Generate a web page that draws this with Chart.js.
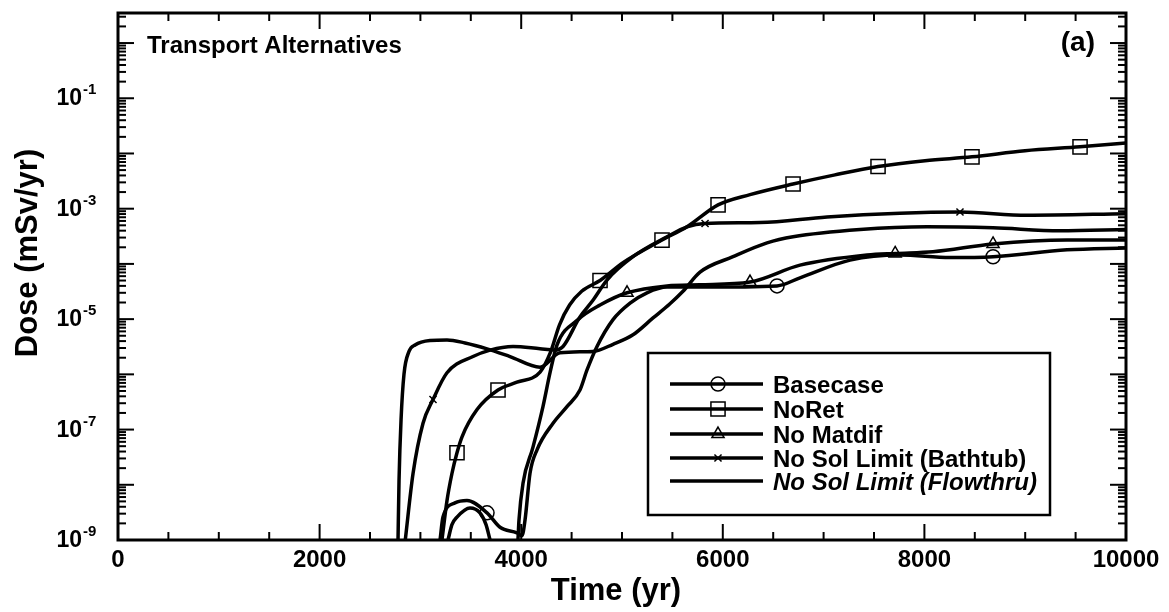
<!DOCTYPE html>
<html>
<head>
<meta charset="utf-8">
<script src="https://cdn.jsdelivr.net/npm/chart.js@4.4.0/dist/chart.umd.min.js"></script>
<style>
  html, body { margin: 0; padding: 0; background: #fff; }
  #wrap { width: 1169px; height: 612px; position: relative; }
</style>
</head>
<body>
<div id="wrap"><canvas id="myChart"></canvas></div>
<script>
const FONT = "'Liberation Sans', Arial, Helvetica, sans-serif";

const seriesNames = ['Basecase', 'NoRet', 'No Matdif', 'No Sol Limit (Bathtub)', 'No Sol Limit (Flowthru)'];

// Time (yr) / dose (mSv/yr)
const basecaseYears = [3195, 3224, 3343, 3462, 3661, 3790, 3958, 4008, 4038, 4087, 4157, 4316, 4454, 4583, 4653, 4752, 4911, 5080, 5248, 5447, 5774, 6538, 6766, 7262, 7758, 8254, 8681, 9415, 10000];
const basecaseDose  = [1e-9, 2.6e-9, 4.7e-9, 5.2e-9, 3.1e-9, 1.7e-9, 1.35e-9, 1.2e-9, 2.3e-9, 1.6e-8, 4.3e-8, 1.3e-7, 2.6e-7, 5.2e-7, 1.2e-6, 3.2e-6, 9.8e-6, 1.95e-5, 3.0e-5, 3.8e-5, 3.8e-5, 4.0e-5, 5.6e-5, 1.17e-4, 1.45e-4, 1.3e-4, 1.35e-4, 1.8e-4, 1.95e-4];
const basecaseMarks = [3661, 6538, 8681];

const noRetYears = [3214, 3264, 3313, 3363, 3413, 3562, 3770, 3958, 4187, 4290, 4380, 4480, 4600, 4782, 5010, 5397, 5645, 5953, 6270, 6697, 7113, 7540, 8006, 8472, 8998, 9544, 10000];
const noRetDose  = [1e-9, 5.2e-9, 1.6e-8, 3.8e-8, 7.4e-8, 2.3e-7, 5.2e-7, 7.2e-7, 1.1e-6, 2.5e-6, 7.9e-6, 1.8e-5, 3.2e-5, 5.0e-5, 1.05e-4, 2.7e-4, 4.7e-4, 1.17e-3, 1.8e-3, 2.8e-3, 4.1e-3, 5.8e-3, 7.4e-3, 8.7e-3, 1.12e-2, 1.32e-2, 1.55e-2];
const noRetMarks = [3363, 3770, 4782, 5397, 5953, 6697, 7540, 8472, 9544];

const noMatdifYears = [3274, 3313, 3363, 3492, 3591, 3651, 3691, 3800, 3968, 3978, 4018, 4117, 4216, 4286, 4355, 4564, 4782, 5050, 5447, 5774, 6270, 6766, 7431, 7710, 8085, 8681, 9415, 10000];
const noMatdifDose  = [1e-9, 1.9e-9, 2.6e-9, 3.8e-9, 3.1e-9, 1.9e-9, 1e-9, null, 1e-9, 2.3e-9, 1.07e-8, 4.8e-8, 2.6e-7, 1.07e-6, 3.4e-6, 9.8e-6, 1.8e-5, 3.0e-5, 4.0e-5, 4.2e-5, 4.7e-5, 9.5e-5, 1.45e-4, 1.55e-4, 1.66e-4, 2.3e-4, 2.7e-4, 2.7e-4];
const noMatdifMarks = [5050, 6270, 7710, 8681];

const bathtubYears = [2850, 2927, 3026, 3125, 3264, 3522, 3691, 3919, 4187, 4330, 4415, 4583, 4712, 4851, 5109, 5447, 5645, 5824, 6369, 7034, 7758, 8353, 9018, 10000];
const bathtubDose  = [1e-9, 1.6e-8, 1.3e-7, 3.5e-7, 1.07e-6, 2.1e-6, 2.75e-6, 3.2e-6, 2.9e-6, 2.75e-6, 3.2e-6, 1.1e-5, 2.2e-5, 5.1e-5, 1.35e-4, 3.1e-4, 4.7e-4, 5.4e-4, 5.6e-4, 7.1e-4, 8.3e-4, 8.7e-4, 7.6e-4, 8.1e-4];
const bathtubMarks = [3125, 5824, 8353];

const flowthruYears = [2778, 2788, 2808, 2837, 2887, 2947, 3095, 3264, 3443, 3661, 3889, 4187, 4385, 4712, 4911, 5109, 5308, 5476, 5605, 5774, 6101, 6439, 6697, 7362, 8026, 8681, 9345, 10000];
const flowthruDose  = [1e-9, 1.2e-8, 1.5e-7, 1.0e-6, 2.6e-6, 3.4e-6, 4.1e-6, 4.2e-6, 3.7e-6, 2.9e-6, 2.1e-6, 1.35e-6, 2.45e-6, 2.6e-6, 3.5e-6, 5.2e-6, 1.05e-5, 1.9e-5, 3.2e-5, 7.1e-5, 1.35e-4, 2.4e-4, 3.1e-4, 4.2e-4, 4.7e-4, 4.5e-4, 4.0e-4, 4.2e-4];
const flowthruMarks = [];

const xTickLabels = [0, 2000, 4000, 6000, 8000, 10000];
const yTickExponents = [-9, -7, -5, -3, -1];

const markerStyles = ['circle', 'rect', 'triangle', 'crossRot', false];
const markerSizes = [7, 10, 7, 5, 0];

function toPoints(years, dose) {
  return years.map((x, i) => ({ x: x, y: dose[i] }));
}

const seriesData = [
  [basecaseYears, basecaseDose, basecaseMarks],
  [noRetYears, noRetDose, noRetMarks],
  [noMatdifYears, noMatdifDose, noMatdifMarks],
  [bathtubYears, bathtubDose, bathtubMarks],
  [flowthruYears, flowthruDose, flowthruMarks]
];

const datasets = seriesData.map((s, k) => ({
  label: seriesNames[k],
  data: toPoints(s[0], s[1]),
  borderColor: '#000',
  borderWidth: 3.5,
  cubicInterpolationMode: 'monotone',
  spanGaps: false,
  pointStyle: markerStyles[k],
  pointRadius: ctx => (ctx.raw && s[2].includes(ctx.raw.x)) ? markerSizes[k] : 0,
  pointHoverRadius: 0,
  pointBorderColor: '#000',
  pointBackgroundColor: 'rgba(0,0,0,0)',
  pointBorderWidth: 1.5
}));

function seg(ctx, x1, y1, x2, y2) {
  ctx.beginPath();
  ctx.moveTo(x1, y1);
  ctx.lineTo(x2, y2);
  ctx.stroke();
}

const decorPlugin = {
  id: 'decor',
  afterDatasetsDraw(chart) {
    const { ctx, chartArea: a, scales } = chart;
    const x = scales.x, y = scales.y;
    ctx.save();
    ctx.strokeStyle = '#000';
    ctx.lineWidth = 2;
    for (let v = 0; v <= 10000; v += 500) {
      const px = x.getPixelForValue(v);
      const len = v % 2000 === 0 ? 16 : 8;
      seg(ctx, px, a.bottom, px, a.bottom - len);
      seg(ctx, px, a.top, px, a.top + len);
    }
    for (let k = -9; k <= 0; k++) {
      for (let m = 1; m <= 9; m++) {
        const v = m * Math.pow(10, k);
        if (v > y.max * 1.0001) continue;
        const py = y.getPixelForValue(v);
        const len = m === 1 ? 16 : 8;
        seg(ctx, a.left, py, a.left + len, py);
        seg(ctx, a.right, py, a.right - len, py);
      }
    }
    ctx.lineWidth = 3;
    ctx.strokeRect(a.left, a.top, a.right - a.left, a.bottom - a.top);
    ctx.restore();
  },
  afterDraw(chart) {
    const { ctx, chartArea: a, scales } = chart;
    const x = scales.x, y = scales.y;
    ctx.save();
    ctx.fillStyle = '#000';

    // x tick labels
    ctx.font = 'bold 24px ' + FONT;
    ctx.textAlign = 'center';
    ctx.textBaseline = 'alphabetic';
    xTickLabels.forEach(v => ctx.fillText(String(v), x.getPixelForValue(v), a.bottom + 27));

    // y tick labels with superscript exponents
    yTickExponents.forEach(e => {
      const py = y.getPixelForValue(Math.pow(10, e));
      ctx.font = 'bold 23px ' + FONT;
      ctx.textAlign = 'right';
      ctx.fillText('10', 82, py + 7);
      ctx.font = 'bold 15px ' + FONT;
      ctx.textAlign = 'left';
      ctx.fillText(String(e), 83, py - 4);
    });

    // axis titles
    ctx.font = 'bold 31px ' + FONT;
    ctx.textAlign = 'center';
    ctx.fillText('Time (yr)', 616, 600);
    ctx.save();
    ctx.translate(37, 253);
    ctx.rotate(-Math.PI / 2);
    ctx.fillText('Dose (mSv/yr)', 0, 0);
    ctx.restore();

    // annotations
    ctx.font = 'bold 24px ' + FONT;
    ctx.textAlign = 'left';
    ctx.fillText('Transport Alternatives', 147, 53);
    ctx.font = 'bold 28px ' + FONT;
    ctx.textAlign = 'right';
    ctx.fillText('(a)', 1095, 51);

    // legend
    const box = { l: 648, t: 353, r: 1050, b: 515 };
    ctx.fillStyle = '#fff';
    ctx.fillRect(box.l, box.t, box.r - box.l, box.b - box.t);
    ctx.strokeStyle = '#000';
    ctx.lineWidth = 2.5;
    ctx.strokeRect(box.l, box.t, box.r - box.l, box.b - box.t);
    const rows = [384, 409, 434, 458, 481];
    seriesNames.forEach((name, k) => {
      const ry = rows[k];
      ctx.lineWidth = 3.5;
      ctx.strokeStyle = '#000';
      seg(ctx, 670, ry, 763, ry);
      if (markerStyles[k]) {
        ctx.lineWidth = 1.5;
        ctx.fillStyle = 'rgba(0,0,0,0)';
        Chart.helpers.drawPoint(ctx, { pointStyle: markerStyles[k], radius: markerSizes[k], rotation: 0, borderWidth: 1.5 }, 718, ry);
      }
      ctx.fillStyle = '#000';
      ctx.font = (k === 4 ? 'italic ' : '') + 'bold 24px ' + FONT;
      ctx.textAlign = 'left';
      ctx.fillText(name, 773, ry + 8.5);
    });
    ctx.restore();
  }
};

new Chart(document.getElementById('myChart'), {
  type: 'line',
  data: { datasets: datasets },
  options: {
    responsive: true,
    maintainAspectRatio: false,
    animation: false,
    layout: { padding: { left: 118, right: 43, top: 13, bottom: 72 } },
    plugins: { legend: { display: false }, tooltip: { enabled: false } },
    scales: {
      x: { type: 'linear', min: 0, max: 10000, display: false },
      y: { type: 'logarithmic', min: 1e-9, max: 3.5, display: false }
    }
  },
  plugins: [decorPlugin]
});
</script>
</body>
</html>
